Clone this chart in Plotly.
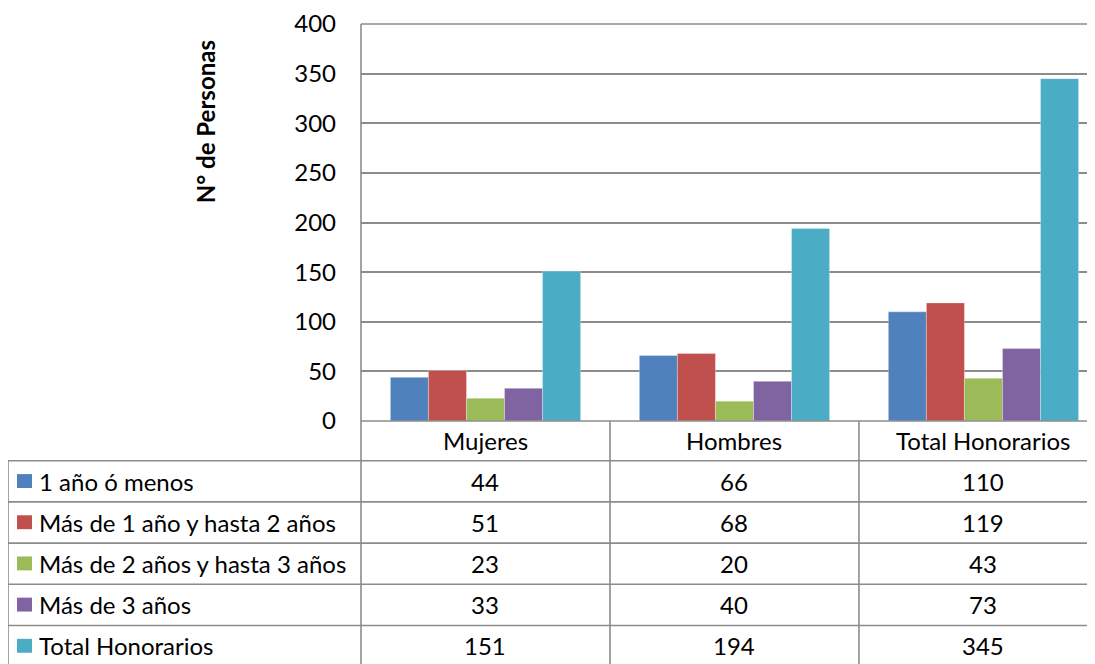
import plotly.graph_objects as go

# Data
categories = ["Mujeres", "Hombres", "Total Honorarios"]
series_names = [
    "1 año ó menos",
    "Más de 1 año y hasta 2 años",
    "Más de 2 años y hasta 3 años",
    "Más de 3 años",
    "Total Honorarios",
]
one_year_or_less = [44, 66, 110]
one_to_two_years = [51, 68, 119]
two_to_three_years = [23, 20, 43]
over_three_years = [33, 40, 73]
total_honorarios = [151, 194, 345]
y_ticks = [0, 50, 100, 150, 200, 250, 300, 350, 400]

series_values = [
    one_year_or_less,
    one_to_two_years,
    two_to_three_years,
    over_three_years,
    total_honorarios,
]
colors = ["#4F81BD", "#C0504D", "#9BBB59", "#8064A2", "#4BACC6"]

# the page has an 8px body margin, so page coords = figure coords + 8
OFF = 8
W, H = 1095 - OFF, 664 - OFF
PLOT_L, PLOT_R, PLOT_T, PLOT_B = 361, 1095, 21, 421
FONT = "Lato, Calibri, Carlito, sans-serif"
FS = 24
LINE = "#8C8C8C"


def px_x(p):
    return (p - PLOT_L) / (PLOT_R - PLOT_L)


def px_y(p):
    return (PLOT_B - p) / (PLOT_B - PLOT_T)


fig = go.Figure()
for name, vals, color in zip(series_names, series_values, colors):
    fig.add_trace(
        go.Bar(
            x=categories,
            y=vals,
            name=name,
            marker=dict(color=color, line=dict(width=0.6, color="rgba(255,255,255,0.5)")),
            showlegend=False,
        )
    )

shapes = []
annotations = []
txt_font = dict(family=FONT, size=FS, color="black")

# table horizontal lines
row_lines = [461, 502.5, 544, 585.5, 627, 669]
for yl in row_lines:
    shapes.append(dict(type="line", xref="paper", yref="paper",
                       x0=px_x(8), x1=1.0, y0=px_y(yl), y1=px_y(yl),
                       line=dict(color=LINE, width=1.6)))
# bottom axis line / header top, and top gridline
for yl in [421, 21]:
    shapes.append(dict(type="line", xref="paper", yref="paper",
                       x0=0, x1=1.0, y0=px_y(yl), y1=px_y(yl),
                       line=dict(color=LINE, width=1.6)))
# vertical lines
shapes.append(dict(type="line", xref="paper", yref="paper",
                   x0=px_x(8), x1=px_x(8), y0=px_y(461), y1=px_y(670),
                   line=dict(color=LINE, width=1.6)))
shapes.append(dict(type="line", xref="paper", yref="paper",
                   x0=0, x1=0, y0=1, y1=px_y(670),
                   line=dict(color=LINE, width=1.6)))
for xb in [0.5, 1.5]:
    shapes.append(dict(type="line", xref="x", yref="paper",
                       x0=xb, x1=xb, y0=0, y1=px_y(670),
                       line=dict(color=LINE, width=1.6)))

# header row: category names
for cat in categories:
    annotations.append(dict(x=cat, xref="x", y=px_y(441), yref="paper",
                            text=cat, showarrow=False,
                            xanchor="center", yanchor="middle", font=txt_font))

row_centers = [481.5, 523, 564.5, 606, 647.5]
for name, vals, color, yc in zip(series_names, series_values, colors, row_centers):
    shapes.append(dict(type="rect", xref="paper", yref="paper",
                       x0=px_x(17), x1=px_x(32), y0=px_y(yc + 7), y1=px_y(yc - 7),
                       fillcolor=color, line=dict(width=0)))
    annotations.append(dict(x=px_x(37), xref="paper", y=px_y(yc), yref="paper",
                            text=name, showarrow=False,
                            xanchor="left", yanchor="middle", font=txt_font))
    for cat, v in zip(categories, vals):
        annotations.append(dict(x=cat, xref="x", y=px_y(yc), yref="paper",
                                text=str(v), showarrow=False,
                                xanchor="center", yanchor="middle", font=txt_font))

# y axis title
annotations.append(dict(x=px_x(205), xref="paper", y=px_y(120), yref="paper",
                        text="<b>N° de Personas</b>", textangle=-90, showarrow=False,
                        xanchor="center", yanchor="middle",
                        font=dict(family=FONT, size=24, color="black")))

fig.update_layout(
    width=W,
    height=H,
    margin=dict(l=PLOT_L - OFF, r=1095 - PLOT_R, t=PLOT_T - OFF, b=664 - PLOT_B, pad=0),
    plot_bgcolor="white",
    paper_bgcolor="white",
    barmode="group",
    bargap=0.236,
    bargroupgap=0,
    showlegend=False,
    font=txt_font,
    shapes=shapes,
    annotations=annotations,
)
fig.update_xaxes(
    range=[-0.5, 2.448],
    showticklabels=False,
    showgrid=False,
    showline=False,
    zeroline=False,
)
fig.update_yaxes(
    range=[0, 400.05],
    tickvals=y_ticks,
    showgrid=True,
    gridcolor=LINE,
    gridwidth=1.6,
    zeroline=False,
    showline=False,
    ticks="",
    ticklabelstandoff=24,
    ticklabeloverflow="allow",
    tickfont=txt_font,
)

fig.write_html("out.html")
